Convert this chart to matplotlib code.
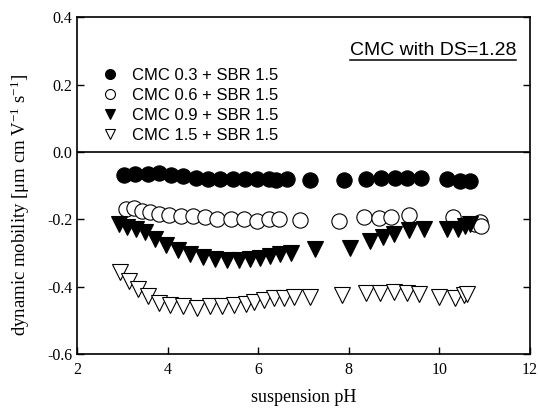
import numpy as np
import matplotlib
matplotlib.use("Agg")
import matplotlib.pyplot as plt
from matplotlib.lines import Line2D

# CMC 0.3 + SBR 1.5 (filled circles)
ph1 = [3.03, 3.29, 3.56, 3.82, 4.08, 4.35, 4.63, 4.89, 5.16, 5.44, 5.70, 5.97, 6.23, 6.40, 6.64,
       7.15, 7.90, 8.39, 8.72, 9.01, 9.29, 9.60, 10.17, 10.46, 10.67]
mob1 = [-0.070, -0.067, -0.065, -0.063, -0.070, -0.073, -0.078, -0.081, -0.081, -0.081, -0.081,
        -0.081, -0.081, -0.083, -0.081, -0.084, -0.084, -0.079, -0.076, -0.078, -0.078, -0.076,
        -0.081, -0.085, -0.087]

# CMC 0.6 + SBR 1.5 (open circles)
ph2 = [3.08, 3.26, 3.43, 3.62, 3.82, 4.04, 4.30, 4.56, 4.82, 5.10, 5.40, 5.68, 5.97, 6.23, 6.47,
       6.93, 7.78, 8.33, 8.66, 8.94, 9.32, 10.31, 10.79, 10.89, 10.92]
mob2 = [-0.169, -0.166, -0.176, -0.179, -0.183, -0.186, -0.189, -0.191, -0.193, -0.200, -0.200,
        -0.198, -0.205, -0.200, -0.200, -0.202, -0.205, -0.193, -0.196, -0.193, -0.186, -0.193,
        -0.215, -0.208, -0.220]

# CMC 0.9 + SBR 1.5 (filled down triangles)
ph3 = [2.92, 3.10, 3.31, 3.51, 3.73, 3.97, 4.22, 4.50, 4.78, 5.05, 5.31, 5.57, 5.82, 6.05, 6.27,
       6.49, 6.72, 7.26, 8.02, 8.47, 8.75, 8.99, 9.32, 9.65, 10.17, 10.42, 10.57, 10.68]
mob3 = [-0.213, -0.223, -0.230, -0.238, -0.260, -0.277, -0.292, -0.304, -0.312, -0.319, -0.322,
        -0.322, -0.319, -0.315, -0.309, -0.304, -0.301, -0.289, -0.284, -0.265, -0.252, -0.245,
        -0.233, -0.230, -0.230, -0.230, -0.220, -0.213]

# CMC 1.5 + SBR 1.5 (open down triangles)
ph4 = [2.96, 3.14, 3.34, 3.56, 3.80, 4.06, 4.35, 4.65, 4.93, 5.20, 5.46, 5.72, 5.90, 6.12, 6.34,
       6.56, 6.78, 7.15, 7.85, 8.39, 8.68, 8.99, 9.28, 9.54, 9.98, 10.35, 10.55, 10.61]
mob4 = [-0.358, -0.383, -0.406, -0.428, -0.450, -0.455, -0.459, -0.462, -0.459, -0.457, -0.455,
        -0.452, -0.447, -0.440, -0.435, -0.433, -0.430, -0.430, -0.426, -0.420, -0.418, -0.416,
        -0.420, -0.423, -0.430, -0.433, -0.426, -0.423]

labels = ["CMC 0.3 + SBR 1.5", "CMC 0.6 + SBR 1.5", "CMC 0.9 + SBR 1.5", "CMC 1.5 + SBR 1.5"]

plt.rcParams["font.family"] = "Liberation Serif"
plt.rcParams["mathtext.fontset"] = "custom"
plt.rcParams["mathtext.rm"] = "Liberation Serif"
plt.rcParams["mathtext.it"] = "Liberation Serif:italic"

fig = plt.figure(figsize=(5.4, 4.09), dpi=100)
ax = fig.add_axes([0.1426, 0.1345, 0.8389, 0.8235])

ms = 11
ax.plot(ph1, mob1, "o", ms=ms, mfc="black", mec="black", mew=0.8, label=labels[0])
ax.plot(ph2, mob2, "o", ms=ms, mfc="white", mec="black", mew=0.8, label=labels[1])
ax.plot(ph3, mob3, "v", ms=ms, mfc="black", mec="black", mew=0.8, label=labels[2])
ax.plot(ph4, mob4, "v", ms=ms, mfc="white", mec="black", mew=0.8, label=labels[3])

ax.axhline(0, color="black", lw=1.2, zorder=0)

ax.set_xlim(2, 12)
ax.set_ylim(-0.6, 0.4)
ax.set_xticks([2, 4, 6, 8, 10, 12])
ax.set_yticks([-0.6, -0.4, -0.2, 0.0, 0.2, 0.4])
ax.set_yticklabels(["-0.6", "-0.4", "-0.2", "0.0", "0.2", "0.4"])
ax.tick_params(direction="in", length=5, width=1, labelsize=11.5, right=True, top=False)
ax.tick_params(axis="x", pad=6)
for s in ax.spines.values():
    s.set_linewidth(1.2)

ax.set_xlabel("suspension pH", fontsize=13, labelpad=8)
ax.set_ylabel("dynamic mobility [μm cm V$^{-1}$ s$^{-1}$]", fontsize=13.5)
ax.yaxis.set_label_coords(-0.1, 0.442)

leg = ax.legend(loc="upper left", bbox_to_anchor=(0.025, 0.885), frameon=False, markerscale=0.65,
                prop={"family": "Liberation Sans", "size": 12}, handletextpad=0.7,
                labelspacing=0.3, borderpad=0.2, handlelength=1.2)

t = ax.text(0.969, 0.887, "CMC with DS=1.28", transform=ax.transAxes, ha="right", va="baseline",
            family="Liberation Sans", fontsize=14)
fig.canvas.draw()
bb = t.get_window_extent().transformed(fig.transFigure.inverted())
yline = bb.y0 - 0.002
fig.add_artist(Line2D([bb.x0, bb.x1], [yline, yline], color="black", lw=1.1, transform=fig.transFigure))

fig.savefig("out.png", dpi=100)
